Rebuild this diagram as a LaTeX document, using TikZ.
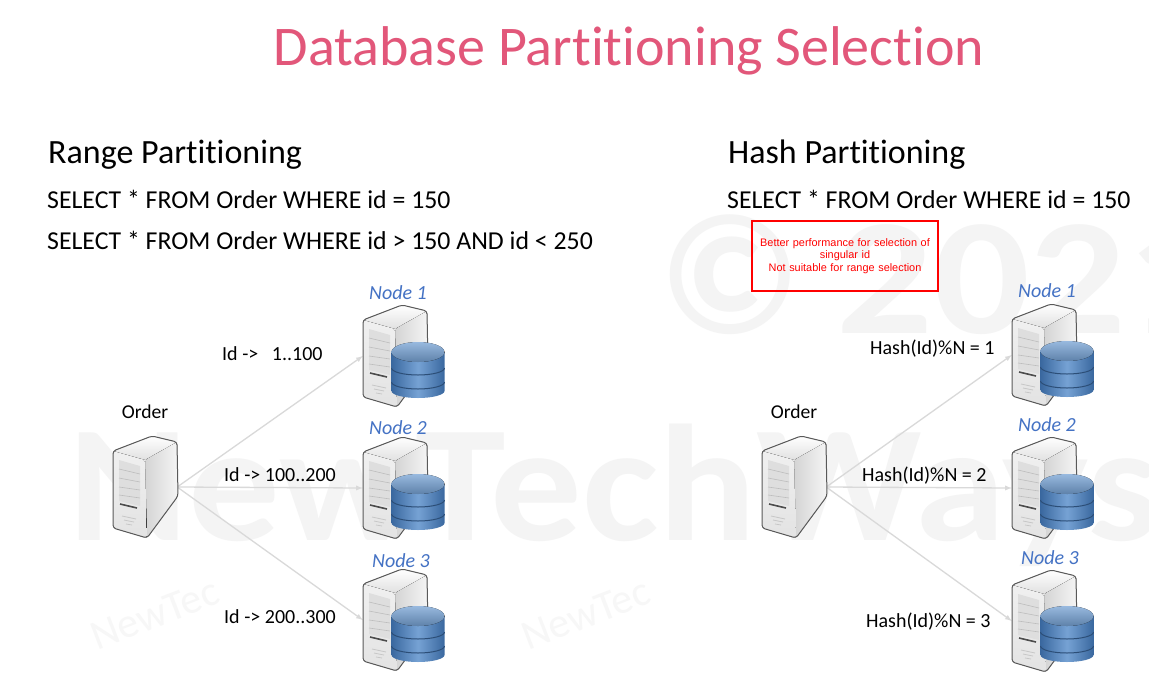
\documentclass[tikz,border=0pt]{standalone}
\usepackage{fontspec}
\setmainfont[Ligatures=NoCommon]{Carlito}
\newfontfamily\boxfont{Liberation Sans}
\definecolor{titlepink}{HTML}{E2577A}
\definecolor{nodeblue}{HTML}{4472C4}
\definecolor{markgray}{HTML}{F4F4F4}
\definecolor{faintgray}{HTML}{F7F7F7}
\definecolor{linkgray}{HTML}{D9D9D9}
\definecolor{dbdark}{HTML}{3A689F}
\definecolor{dbmid}{HTML}{76A2D4}
\tikzset{
    hostbox/.style={minimum width=64pt,minimum height=100pt,inner sep=0pt},
    link/.style={-latex,draw=linkgray,line width=1.3pt},
    heading/.style={anchor=base west,inner sep=0pt,font=\fontsize{34}{34}\selectfont},
    query/.style={anchor=base west,inner sep=0pt,font=\fontsize{25.8}{25.8}\selectfont},
    label/.style={anchor=base west,inner sep=0pt,font=\fontsize{20}{20}\selectfont},
    nodename/.style={text=nodeblue,font=\fontsize{20}{20}\selectfont\itshape},
    bigmark/.style={anchor=base west,inner sep=0pt,text=markgray,transform shape,font=\fontsize{166}{166}\selectfont\bfseries},
    smallmark/.style={text=faintgray,rotate=21,font=\fontsize{42}{42}\selectfont},
    server/.pic={
        \fill[rounded corners=3pt,top color=white,bottom color=black!12] (-32,-36)--(7,-51)--(32,-45)--(0,-27)--cycle;
        \fill[rounded corners=2pt,left color=black!17,right color=black!4] (0,-27)--(32,-45)--(33,9)--(2,51)--cycle;
        \fill[rounded corners=2pt,top color=black!6,bottom color=black!11] (-32,-36)--(0,-27)--(2,51)--(-32,41)--cycle;
        \fill[black!13] (-26,-27)--(-5,-21)--(-5,19)--(-26,14)--cycle;
        \draw[black!26,line width=.6pt] (-26,-18)--(-5,-13);
        \draw[black!26,line width=.6pt] (-26,-9)--(-5,-5);
        \draw[black!26,line width=.6pt] (-26,0)--(-5,3);
        \draw[black!26,line width=.6pt] (-26,8)--(-5,11);
        \draw[black!70,line width=1.6pt] (-25,17)--(-8,21);
        \draw[black!22,line width=.8pt] (-23,29)--(-9,32);
        \draw[black!22,line width=.8pt] (-21,33)--(-11,35);
        \draw[black!22,line width=.8pt] (-19,37)--(-13,38);
        \draw[black!65,line width=1pt,rounded corners=3pt] (-32,-36)--(7,-51)--(32,-45)--(33,9)--(2,51)--(-32,41)--cycle;
    },
    database/.pic={
        \shade[left color=dbdark,right color=dbdark,middle color=dbmid] (-26.5,-18)--(-26.5,21) arc[start angle=180,end angle=360,x radius=26.5,y radius=-7]--(26.5,-18)--cycle;
        \fill[top color=dbmid!75!white,bottom color=dbmid!80!black] (0,-18) ellipse[x radius=26.5,y radius=10];
        \draw[dbdark!75!black,line width=1pt] (-26.5,-2) arc[start angle=180,end angle=360,x radius=26.5,y radius=-7];
        \draw[dbdark!75!black,line width=1pt] (-26.5,12) arc[start angle=180,end angle=360,x radius=26.5,y radius=-7];
    }
}
\begin{document}
\begin{tikzpicture}[x=1pt,y=-1pt]
    \useasboundingbox[fill=white] (0,0) rectangle (1149,697);

    \node[bigmark,xscale=1.1] (markbig) at (68,540) {NewTechWays};
    \node[text=markgray,font=\fontsize{172}{172}\selectfont\bfseries] (markcopy) at (730,275) {©};
    \node[bigmark,xscale=1.15] (markyear) at (836,333) {2021};
    \node[smallmark] (markleft) at (155,614) {NewTec};
    \node[smallmark] (markright) at (586,614) {NewTec};

    \node[text=titlepink,anchor=base,font=\fontsize{56}{56}\selectfont] (title) at (629,65) {Database Partitioning Selection};

    \node[heading] (rangehead) at (48,163) {Range Partitioning};
    \node[query] (rangeone) at (47,208) {SELECT * FROM Order WHERE id = 150};
    \node[query] (rangetwo) at (47,249) {SELECT * FROM Order WHERE id > 150 AND id < 250};
    \node[heading] (hashhead) at (728,163) {Hash Partitioning};
    \node[query] (hashone) at (727,208) {SELECT * FROM Order WHERE id = 150};

    \node[draw=red,line width=1.6pt,minimum width=186pt,minimum height=70pt,inner sep=0pt,text width=180pt,align=center,text=red,font=\boxfont\fontsize{10.9}{12.5}\selectfont] (remark) at (845,256) {Better performance for selection of\\singular id\\Not suitable for range selection};

    \node[hostbox] (orderl) at (145,487) {};
    \node[hostbox] (nodela) at (395,356) {};
    \node[hostbox] (nodelb) at (395,488) {};
    \node[hostbox] (nodelc) at (395,620) {};
    \node[hostbox] (orderr) at (794,487) {};
    \node[hostbox] (nodera) at (1044,355) {};
    \node[hostbox] (noderb) at (1044,488) {};
    \node[hostbox] (noderc) at (1044,621) {};

    \draw[link] (orderl.east)--(nodela.west);
    \draw[link] (orderl.east)--(nodelb.west);
    \draw[link] (orderl.east)--(nodelc.west);
    \draw[link] (orderr.east)--(nodera.west);
    \draw[link] (orderr.east)--(noderb.west);
    \draw[link] (orderr.east)--(noderc.west);

    \pic at (orderl) {server};
    \pic at (nodela) {server};
    \pic at (nodelb) {server};
    \pic at (nodelc) {server};
    \pic at (orderr) {server};
    \pic at (nodera) {server};
    \pic at (noderb) {server};
    \pic at (noderc) {server};
    \pic at (418,370) {database};
    \pic at (418,502) {database};
    \pic at (418,634) {database};
    \pic at (1067,369) {database};
    \pic at (1067,502) {database};
    \pic at (1067,634) {database};

    \node[font=\fontsize{19.6}{19.6}\selectfont] (orderltext) at (145,412) {Order};
    \node[font=\fontsize{19.6}{19.6}\selectfont] (orderrtext) at (794,412) {Order};
    \node[nodename] (nameone) at (398,293) {Node 1};
    \node[nodename] (nametwo) at (398,428) {Node 2};
    \node[nodename] (namethree) at (401,561) {Node 3};
    \node[nodename] (namefour) at (1047,291) {Node 1};
    \node[nodename] (namefive) at (1047,425) {Node 2};
    \node[nodename] (namesix) at (1050,558) {Node 3};

    \node[label] (rangea) at (222,360) {Id ->\ \ \ 1..100};
    \node[label] (rangeb) at (224,481) {Id -> 100..200};
    \node[label] (rangec) at (224,623) {Id -> 200..300};
    \node[label] (hasha) at (870,354) {Hash(Id)\%N = 1};
    \node[label] (hashb) at (862,481) {Hash(Id)\%N = 2};
    \node[label] (hashc) at (866,627) {Hash(Id)\%N = 3};
\end{tikzpicture}
\end{document}
